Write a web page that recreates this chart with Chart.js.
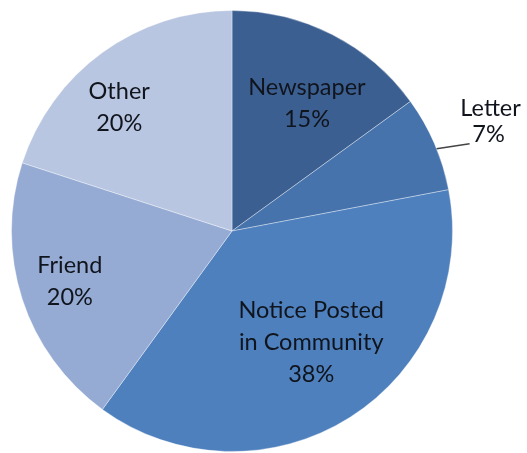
<!DOCTYPE html>
<html>
<head>
<meta charset="utf-8">
<script src="https://cdn.jsdelivr.net/npm/chart.js@4/dist/chart.umd.min.js"></script>
<style>
  body { margin: 0; background: #fff; }
</style>
</head>
<body>
<canvas id="pie" width="527" height="453"></canvas>
<script>
// How people heard about it (percent)
var sources = ["Newspaper", "Letter", "Notice Posted in Community", "Friend", "Other"];
var shares = [15, 7, 38, 20, 20];
var labelLines = [["Newspaper"], ["Letter"], ["Notice Posted", "in Community"], ["Friend"], ["Other"]];

var sliceColors = ["#3c5f91", "#4673ac", "#4e80be", "#95abd4", "#b9c6e1"];

// label placement: r = fraction of radius, da = angle shift in degrees
var labelPlace = [
  { r: 0.67, da: 3.5 },
  { callout: true, da: 1.5 },
  { r: 0.62, da: -3 },
  { r: 0.77, da: 0.8 },
  { r: 0.76, da: -6.3 }
];

// Draws the category / percent text on (or beside) each slice
var sliceLabels = {
  id: "sliceLabels",
  afterDatasetsDraw: function (chart) {
    var ctx = chart.ctx;
    var meta = chart.getDatasetMeta(0);
    var lineH = 32;
    ctx.save();
    ctx.font = "23.5px Lato, 'Open Sans', sans-serif";
    ctx.fillStyle = "#10141c";
    ctx.textAlign = "center";
    ctx.textBaseline = "middle";
    meta.data.forEach(function (arc, i) {
      var p = arc.getProps(["x", "y", "startAngle", "endAngle", "outerRadius"], true);
      var mid = (p.startAngle + p.endAngle) / 2;
      var lines = labelLines[i].concat([shares[i] + "%"]);
      var place = labelPlace[i];
      var a = mid + place.da * Math.PI / 180;
      var cx, cy;
      if (place.callout) {
        var sx = p.x + Math.cos(a) * p.outerRadius;
        var sy = p.y + Math.sin(a) * p.outerRadius;
        var ex = sx + 33;
        var ey = sy - 5;
        ctx.strokeStyle = "#444";
        ctx.lineWidth = 1.5;
        ctx.beginPath();
        ctx.moveTo(sx, sy);
        ctx.lineTo(ex, ey);
        ctx.stroke();
        cx = ex + 21;
        cy = ey - 22;
        ctx.fillText(lines[0], cx, cy - lineH / 2 + 3);
        ctx.fillText(lines[1], cx - 2, cy + lineH / 2 - 3);
        return;
      }
      cx = p.x + Math.cos(a) * p.outerRadius * place.r;
      cy = p.y + Math.sin(a) * p.outerRadius * place.r;
      var top = cy - (lines.length - 1) * lineH / 2;
      lines.forEach(function (t, k) {
        ctx.fillText(t, cx, top + k * lineH);
      });
    });
    ctx.restore();
  }
};

var ctx = document.getElementById("pie");
var pieChart = new Chart(ctx, {
  type: "pie",
  data: {
    labels: sources,
    datasets: [{
      data: shares,
      backgroundColor: sliceColors,
      borderColor: "rgba(255,255,255,0.35)",
      borderWidth: 1,
      hoverOffset: 0
    }]
  },
  options: {
    responsive: false,
    animation: false,
    layout: { padding: { left: 11, top: 10, right: 74, bottom: 1 } },
    plugins: {
      legend: { display: false },
      tooltip: { enabled: false }
    }
  },
  plugins: [sliceLabels]
});
</script>
</body>
</html>
